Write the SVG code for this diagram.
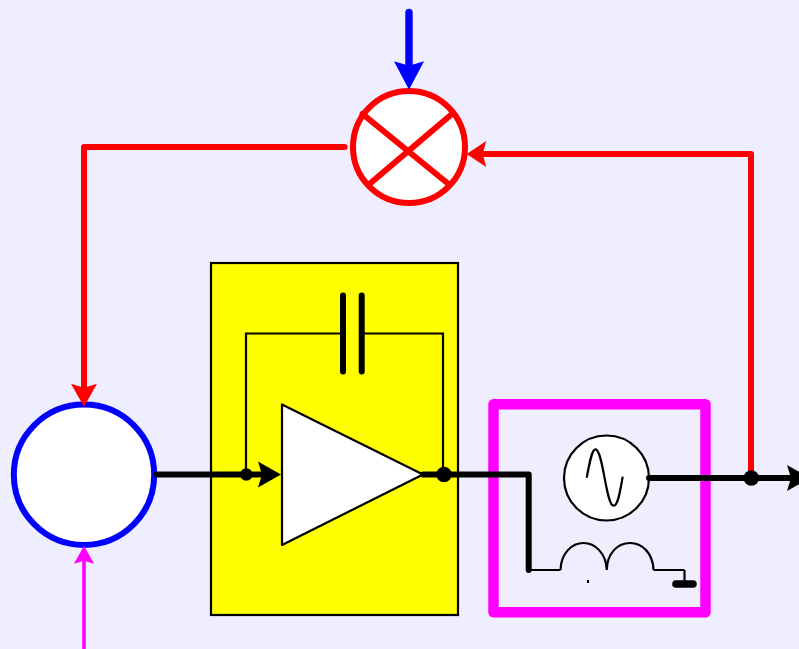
<svg xmlns="http://www.w3.org/2000/svg" width="799" height="649" viewBox="0 0 799 649">
<style>
.thin{fill:none;stroke:#000;stroke-width:2.2}
.thick{fill:none;stroke:#000;stroke-width:6;stroke-linecap:round;stroke-linejoin:round}
.red{fill:none;stroke:#f00;stroke-width:6;stroke-linecap:round;stroke-linejoin:round}
.dot{fill:#000}
</style>
<defs>
<marker id="hBlack" markerUnits="userSpaceOnUse" markerWidth="30" markerHeight="30" refX="4" refY="15" orient="auto" overflow="visible"><path d="M0,2 L23,15 L0,28 L4,15 Z" fill="#000"/></marker>
<marker id="hRed" markerUnits="userSpaceOnUse" markerWidth="30" markerHeight="30" refX="4" refY="15" orient="auto" overflow="visible"><path d="M0,2 L23,15 L0,28 L4,15 Z" fill="#f00"/></marker>
<marker id="hRedS" markerUnits="userSpaceOnUse" markerWidth="30" markerHeight="30" refX="3.5" refY="15" orient="auto" overflow="visible"><path d="M0,2 L19.5,15 L0,28 L3.5,15 Z" fill="#f00"/></marker>
<marker id="hBlue" markerUnits="userSpaceOnUse" markerWidth="34" markerHeight="34" refX="4.5" refY="17" orient="auto" overflow="visible"><path d="M0,2 L28.5,17 L0,32 L4.5,17 Z" fill="#00f"/></marker>
<marker id="hMag" markerUnits="userSpaceOnUse" markerWidth="24" markerHeight="24" refX="3" refY="12" orient="auto" overflow="visible"><path d="M0,2 L18,12 L0,22 L3,12 Z" fill="#f0f"/></marker>
</defs>
<rect width="799" height="649" fill="#eeeeff"/>
<g id="block-yellow"><rect x="211" y="263" width="247" height="352" fill="#ff0" stroke="#000" stroke-width="2.2"/></g>
<g id="block-magenta"><rect x="493.5" y="404.3" width="212" height="208" fill="none" stroke="#f0f" stroke-width="10.5" stroke-linejoin="round"/></g>
<g id="sum"><circle cx="84" cy="474.7" r="70.2" fill="#fff" stroke="#00f" stroke-width="6"/></g>
<g id="mixer"><circle cx="409" cy="147" r="56" fill="#fff" stroke="#f00" stroke-width="6"/>
<path class="red" d="M362.5,114 L448.5,184 M452.5,113.5 L369.5,184"/></g>
<g id="amplifier"><path d="M282,404.5 L282,545 L423,474.5 Z" fill="#fff" stroke="#000" stroke-width="2.2" stroke-linejoin="round"/></g>
<g id="capacitor"><path class="thick" d="M343,295.5 V371.5 M361.7,295.5 V371.5"/></g>
<g id="source"><circle cx="606.5" cy="478" r="42.5" fill="#fff" stroke="#000" stroke-width="2.2"/>
<path d="M586.7,477.7 C590,460 592,449.3 595.5,449.3 C603,449.3 606,505.7 613.6,505.7 C618,505.7 620,492 622.7,476.7" fill="none" stroke="#000" stroke-width="2.2"/></g>
<g id="inductor"><path class="thin" d="M560.5,570 C561,553 572,543 583.5,543 C595,543 606,553 606.8,570 C607,553 618,543 630,543 C642,543 653,553 653.5,570"/>
<rect x="587" y="580" width="2" height="3" fill="#000"/></g>
<g id="ground"><path class="thin" d="M684.5,570 V584"/><path d="M676,584 H693" fill="none" stroke="#000" stroke-width="7.6" stroke-linecap="round"/></g>
<g id="connectors">
<path d="M409,12.5 V65.8" fill="none" stroke="#00f" stroke-width="7.4" stroke-linecap="round" marker-end="url(#hBlue)"/>
<path class="red" d="M344.6,147 H84 V387.7" marker-end="url(#hRed)"/>
<path d="M751,478 V154 H482.7" fill="none" stroke="#f00" stroke-width="6" stroke-linejoin="round" marker-end="url(#hRedS)"/>
<path d="M84,649 V560.7" fill="none" stroke="#f0f" stroke-width="3.6" marker-end="url(#hMag)"/>
<path class="thick" d="M156.5,474.5 H262" marker-end="url(#hBlack)"/>
<path class="thin" d="M246,474.5 V333.5 H342 M362,333.5 H443 V474.5"/>
<path class="thick" d="M423,474.5 H528.7 V570"/>
<path class="thin" d="M528.7,570 H560.5 M653.5,570 H684.5"/>
<path class="thick" d="M649,478 H791" marker-end="url(#hBlack)"/>
<circle class="dot" cx="246.3" cy="474.5" r="6.2"/>
<circle class="dot" cx="444" cy="474.5" r="7.8"/>
<circle class="dot" cx="751.3" cy="478" r="7.8"/>
</g>
</svg>
